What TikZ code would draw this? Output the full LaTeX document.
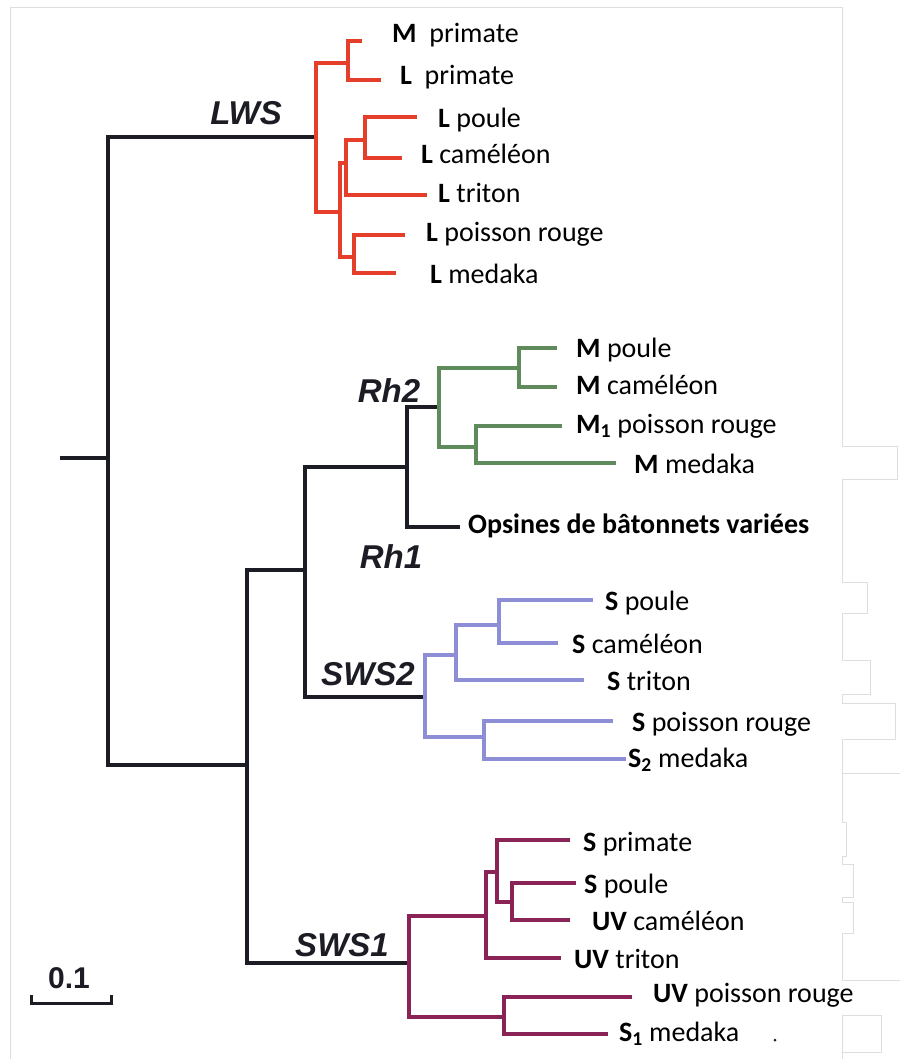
\documentclass[tikz,border=0pt]{standalone}
\usepackage{fontspec}
\setmainfont{Carlito}
\newfontfamily\cladefont{Liberation Sans}
\definecolor{stem}{HTML}{1C1C24}
\definecolor{lwscol}{HTML}{E53E2B}
\definecolor{rhcol}{HTML}{5F8B5C}
\definecolor{swstwo}{HTML}{8E8ED6}
\definecolor{swsone}{HTML}{8A2456}
\definecolor{framecol}{HTML}{DEDEDE}
\begin{document}
\begin{tikzpicture}[x=1pt,y=-1pt,
  edge/.style={line width=3.2pt},
  blk/.style={edge,draw=stem},
  redb/.style={edge,draw=lwscol},
  grnb/.style={edge,draw=rhcol},
  lavb/.style={edge,draw=swstwo},
  marb/.style={edge,draw=swsone},
  lab/.style={anchor=base west,inner sep=0pt,font=\fontsize{28}{33}\selectfont},
  clade/.style={anchor=base,inner sep=0pt,font=\cladefont\fontsize{33}{38}\selectfont\bfseries\itshape,text=stem},
]
\useasboundingbox (0,0) rectangle (900,1059);
\fill[white] (0,0) rectangle (900,1059);

% faint page frame
\draw[framecol,line width=0.8pt]
  (10,1059) -- (10,7) -- (842,7) -- (842,446) -- (897,446) -- (897,479)
  -- (842,479) -- (842,582) -- (867,582) -- (867,613) -- (842,613)
  -- (842,660) -- (870,660) -- (870,694) -- (842,694) -- (842,703)
  -- (895,703) -- (895,739) -- (842,739) -- (842,773) -- (900,773);
\draw[framecol,line width=0.8pt]
  (842,773) -- (842,822) -- (846,822) -- (846,856) -- (842,856) -- (842,864)
  -- (853,864) -- (853,897) -- (842,897) -- (842,902) -- (853,902)
  -- (853,933) -- (842,933) -- (842,980) -- (900,980);
\draw[framecol,line width=0.8pt]
  (842,1059) -- (842,1015) -- (881,1015) -- (881,1052) -- (842,1052);

% ---- internal nodes ----
\coordinate (root) at (60,458);
\coordinate (n0) at (108,458);
\coordinate (lws) at (316,137);
\coordinate (n1) at (247,765);
\coordinate (n2) at (305,570);
\coordinate (sws1) at (409,963);
\coordinate (n3) at (407,467);
\coordinate (sws2) at (425,697);
\coordinate (rh2) at (439,407);
\coordinate (tops) at (460,527);
% LWS clade
\coordinate (r1) at (348,63);
\coordinate (rA) at (340,212);
\coordinate (rB) at (346,163);
\coordinate (rC) at (365,140);
\coordinate (rD) at (354,257);
\coordinate (tMprim) at (362,41);
\coordinate (tLprim) at (381,80);
\coordinate (tLpoule) at (417,117);
\coordinate (tLcam) at (402,158);
\coordinate (tLtrit) at (427,195);
\coordinate (tLpois) at (405,235);
\coordinate (tLmed) at (396,273);
% Rh2 clade
\coordinate (g1) at (519,368);
\coordinate (g2) at (476,447);
\coordinate (tMpoule) at (557,348);
\coordinate (tMcam) at (557,387);
\coordinate (tMpois) at (562,426);
\coordinate (tMmed) at (616,463);
% SWS2 clade
\coordinate (p1) at (456,655);
\coordinate (p2) at (499,625);
\coordinate (p3) at (484,737);
\coordinate (tSpoule) at (593,600);
\coordinate (tScam) at (558,643);
\coordinate (tStrit) at (584,680);
\coordinate (tSpois) at (613,721);
\coordinate (tSmed) at (626,759);
% SWS1 clade
\coordinate (m1) at (486,916);
\coordinate (m2) at (497,872);
\coordinate (m3) at (512,902);
\coordinate (m4) at (504,1017);
\coordinate (tSprim) at (570,840);
\coordinate (tSpoule1) at (576,883);
\coordinate (tUVcam) at (570,920);
\coordinate (tUVtrit) at (561,958);
\coordinate (tUVpois) at (632,997);
\coordinate (tSmed1) at (608,1034);

% ---- backbone ----
\draw[blk] (root) -- (n0);
\draw[blk] (n0) |- (lws);
\draw[blk] (n0) |- (n1);
\draw[blk] (n1) |- (n2);
\draw[blk] (n1) |- (sws1);
\draw[blk] (n2) |- (n3);
\draw[blk] (n2) |- (sws2);
\draw[blk] (n3) |- (rh2);
\draw[blk] (n3) |- (tops);

% ---- LWS ----
\draw[redb] (lws) |- (r1);
\draw[redb] (lws) |- (rA);
\draw[redb] (r1) |- (tMprim);
\draw[redb] (r1) |- (tLprim);
\draw[redb] (rA) |- (rB);
\draw[redb] (rA) |- (rD);
\draw[redb] (rB) |- (rC);
\draw[redb] (rB) |- (tLtrit);
\draw[redb] (rC) |- (tLpoule);
\draw[redb] (rC) |- (tLcam);
\draw[redb] (rD) |- (tLpois);
\draw[redb] (rD) |- (tLmed);

% ---- Rh2 ----
\draw[grnb] (rh2) |- (g1);
\draw[grnb] (rh2) |- (g2);
\draw[grnb] (g1) |- (tMpoule);
\draw[grnb] (g1) |- (tMcam);
\draw[grnb] (g2) |- (tMpois);
\draw[grnb] (g2) |- (tMmed);

% ---- SWS2 ----
\draw[lavb] (sws2) |- (p1);
\draw[lavb] (sws2) |- (p3);
\draw[lavb] (p1) |- (p2);
\draw[lavb] (p1) |- (tStrit);
\draw[lavb] (p2) |- (tSpoule);
\draw[lavb] (p2) |- (tScam);
\draw[lavb] (p3) |- (tSpois);
\draw[lavb] (p3) |- (tSmed);

% ---- SWS1 ----
\draw[marb] (sws1) |- (m1);
\draw[marb] (sws1) |- (m4);
\draw[marb] (m1) |- (m2);
\draw[marb] (m1) |- (tUVtrit);
\draw[marb] (m2) |- (tSprim);
\draw[marb] (m2) |- (m3);
\draw[marb] (m3) |- (tSpoule1);
\draw[marb] (m3) |- (tUVcam);
\draw[marb] (m4) |- (tUVpois);
\draw[marb] (m4) |- (tSmed1);

% ---- leaf labels ----
\node[lab] (xMprim) at (392,43) {\textbf{M}\ \ primate};
\node[lab] (xLprim) at (400,85) {\textbf{L}\ \ primate};
\node[lab] (xLpoule) at (438,128) {\textbf{L} poule};
\node[lab] (xLcam) at (421,164) {\textbf{L} caméléon};
\node[lab] (xLtrit) at (438,203) {\textbf{L} triton};
\node[lab] (xLpois) at (426,242) {\textbf{L} poisson rouge};
\node[lab] (xLmed) at (430,283) {\textbf{L} medaka};

\node[lab] (xMpoule) at (576,357) {\textbf{M} poule};
\node[lab] (xMcam) at (576,394) {\textbf{M} caméléon};
\node[lab] (xMpois) at (576,433) {\textbf{M\textsubscript{1}} poisson rouge};
\node[lab] (xMmed) at (634,473) {\textbf{M} medaka};
\node[lab,font=\fontsize{28}{33}\selectfont\bfseries] (xOps) at (468,533) {Opsines de bâtonnets variées};

\node[lab] (xSpoule) at (605,610) {\textbf{S} poule};
\node[lab] (xScam) at (572,653) {\textbf{S} caméléon};
\node[lab] (xStrit) at (607,690) {\textbf{S} triton};
\node[lab] (xSpois) at (632,731) {\textbf{S} poisson rouge};
\node[lab] (xSmed) at (628,767) {\textbf{S\textsubscript{2}} medaka};

\node[lab] (xSprim) at (583,851) {\textbf{S} primate};
\node[lab] (xSpoule1) at (584,893) {\textbf{S} poule};
\node[lab] (xUVcam) at (592,930) {\textbf{UV} caméléon};
\node[lab] (xUVtrit) at (574,968) {\textbf{UV} triton};
\node[lab] (xUVpois) at (653,1002) {\textbf{UV} poisson rouge};
\node[lab] (xSmed1) at (619,1041) {\textbf{S\textsubscript{1}} medaka};

% ---- clade names ----
\node[clade] (cLWS) at (246,125) {LWS};
\node[clade] (cRh2) at (389,402) {Rh2};
\node[clade] (cRh1) at (391,568) {Rh1};
\node[clade] (cSWS2) at (368,685) {SWS2};
\node[clade] (cSWS1) at (342,956) {SWS1};

% ---- scale bar ----
\coordinate (sbL) at (31,995);
\coordinate (sbR) at (111,995);
\draw[stem,line width=3pt] (sbL) -- ++(0,8) -| (sbR);
\node[anchor=base,inner sep=0pt,font=\cladefont\fontsize{30}{34}\selectfont\bfseries,text=stem] (sbText) at (69,988) {0.1};

% small speck
\fill[stem] (775,1040) circle (1.5);
\end{tikzpicture}
\end{document}
